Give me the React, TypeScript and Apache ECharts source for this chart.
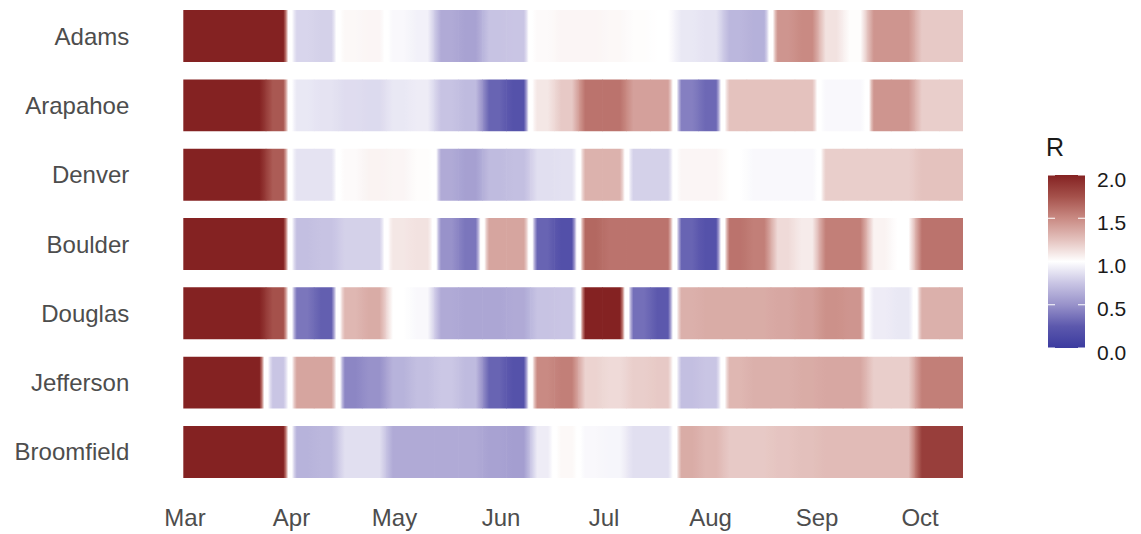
import React, { useEffect, useRef } from "react";
import * as echarts from "echarts";

// ---- data ----
const counties = ["Adams", "Arapahoe", "Denver", "Boulder", "Douglas", "Jefferson", "Broomfield"];
const monthLabels = ["Mar", "Apr", "May", "Jun", "Jul", "Aug", "Sep", "Oct"];
const monthStartDay = [0, 31, 61, 92, 122, 153, 184, 214]; // day index from Mar 1
const dayCount = 227; // Mar 1 .. Oct 13
const marchBlockEnd = 24; // first block: Mar 1 – Mar 24
const weekLength = 7; // then weekly blocks from Mar 25
const marchR = [2.0, 2.0, 2.0, 2.0, 2.0, 2.0, 2.0];

const adamsR = [2.0, 0.82, 0.8, 1.03, 1.04, 0.97, 0.94, 0.62, 0.58, 0.74, 0.75, 1.02, 1.04, 1.04, 1.03, 1.01, 1.0, 0.9, 0.88, 0.68, 0.65, 1.45, 1.5, 1.12, 1.01, 1.45, 1.45, 1.22, 1.22];
const arapahoeR = [1.72, 0.9, 0.88, 0.85, 0.84, 0.9, 0.92, 0.74, 0.7, 0.3, 0.2, 1.1, 1.22, 1.6, 1.6, 1.4, 1.4, 0.42, 0.32, 1.25, 1.25, 1.25, 1.25, 0.97, 0.97, 1.45, 1.45, 1.2, 1.2];
const denverR = [1.7, 0.88, 0.88, 1.02, 1.05, 1.04, 1.01, 0.62, 0.57, 0.7, 0.72, 0.86, 0.87, 1.32, 1.32, 0.8, 0.8, 1.04, 1.04, 1.0, 0.97, 0.97, 0.97, 1.2, 1.2, 1.2, 1.2, 1.25, 1.25];
const boulderR = [2.0, 0.72, 0.74, 0.8, 0.8, 1.1, 1.12, 0.5, 0.38, 1.38, 1.38, 0.3, 0.18, 1.65, 1.6, 1.6, 1.6, 0.3, 0.2, 1.6, 1.55, 1.15, 1.08, 1.55, 1.55, 1.05, 1.0, 1.6, 1.6];
const douglasR = [1.75, 0.38, 0.28, 1.3, 1.35, 1.0, 0.97, 0.62, 0.6, 0.6, 0.62, 0.74, 0.75, 2.0, 2.0, 0.35, 0.25, 1.33, 1.35, 1.35, 1.35, 1.37, 1.4, 1.47, 1.45, 0.92, 0.9, 1.33, 1.33];
const jeffersonR = [0.75, 1.38, 1.38, 0.45, 0.5, 0.66, 0.72, 0.76, 0.7, 0.3, 0.2, 1.5, 1.55, 1.18, 1.15, 1.2, 1.22, 0.72, 0.75, 1.3, 1.33, 1.33, 1.35, 1.37, 1.37, 1.2, 1.2, 1.55, 1.55];
const broomfieldR = [2.0, 0.66, 0.68, 0.86, 0.86, 0.62, 0.62, 0.62, 0.62, 0.58, 0.56, 0.92, 1.03, 0.97, 0.96, 0.86, 0.86, 1.35, 1.3, 1.22, 1.22, 1.24, 1.26, 1.28, 1.28, 1.28, 1.28, 1.85, 1.85];

const weeklyR = [adamsR, arapahoeR, denverR, boulderR, douglasR, jeffersonR, broomfieldR];

const legendBreaks = [0, 0.5, 1, 1.5, 2];
const rMin = 0;
const rMax = 2;
const PALETTE = ["#3b3b9f", "#5c58ad", "#9892ca", "#c9c5e4", "#ffffff", "#e4c2be", "#c98a83", "#a5514b", "#842222"];

const FONT = "'Liberation Sans', Arial, Helvetica, sans-serif";

function hexToRgb(h: string) {
  const n = parseInt(h.slice(1), 16);
  return [(n >> 16) & 255, (n >> 8) & 255, n & 255];
}
function rColor(v: number): string {
  const t = Math.max(0, Math.min(1, (v - rMin) / (rMax - rMin)));
  const lerp = (echarts as any).color && (echarts as any).color.lerp;
  if (lerp) return lerp(t, PALETTE);
  const pos = t * (PALETTE.length - 1);
  const i = Math.min(PALETTE.length - 2, Math.floor(pos));
  const f = pos - i;
  const a = hexToRgb(PALETTE[i]);
  const b = hexToRgb(PALETTE[i + 1]);
  const c = a.map((x, k) => Math.round(x + (b[k] - x) * f));
  return `rgb(${c[0]},${c[1]},${c[2]})`;
}

export default function App() {
  const ref = useRef<HTMLDivElement>(null);

  useEffect(() => {
    document.body.style.margin = "0";
    if (!ref.current) return;
    const chart = echarts.init(ref.current, undefined, { renderer: "svg" });

    // blocks: [startDay, endDay, row, value, prevValue, nextValue]
    const blocks: number[][] = [];
    counties.forEach((_, row) => {
      const segs: number[][] = [[0, marchBlockEnd, marchR[row]]];
      weeklyR[row].forEach((v, k) => {
        const s = marchBlockEnd + k * weekLength;
        segs.push([s, Math.min(dayCount, s + weekLength), v]);
      });
      segs.forEach((sg, i) => {
        const prev = i > 0 ? segs[i - 1][2] : -1;
        const next = i < segs.length - 1 ? segs[i + 1][2] : -1;
        blocks.push([sg[0], sg[1], row, sg[2], prev, next]);
      });
    });

    const days = Array.from({ length: dayCount }, (_, i) => String(i));

    const barTop = 175;
    const barBottom = 348;
    const barX = 1048;
    const barW = 37;
    const yOf = (v: number) => barBottom - ((v - rMin) / (rMax - rMin)) * (barBottom - barTop);

    const legendStops = PALETTE.map((c, i) => ({ offset: 1 - i / (PALETTE.length - 1), color: c })).reverse();

    const graphics: any[] = [
      {
        type: "text",
        left: barX - 2,
        top: 134,
        style: { text: "R", fontSize: 25, fill: "#1a1a1a", fontFamily: FONT },
      },
      {
        type: "rect",
        shape: { x: barX, y: barTop, width: barW, height: barBottom - barTop },
        style: { fill: { type: "linear", x: 0, y: 0, x2: 0, y2: 1, colorStops: legendStops } },
      },
    ];
    legendBreaks.forEach((b) => {
      const y = yOf(b);
      graphics.push(
        { type: "line", shape: { x1: barX, y1: y, x2: barX + 7, y2: y }, style: { stroke: "#ffffff", lineWidth: 1 } },
        { type: "line", shape: { x1: barX + barW - 7, y1: y, x2: barX + barW, y2: y }, style: { stroke: "#ffffff", lineWidth: 1 } },
        {
          type: "text",
          x: barX + barW + 12,
          y: y + 4,
          style: { text: b.toFixed(1), fontSize: 21, fill: "#1a1a1a", fontFamily: FONT, verticalAlign: "middle", align: "left" },
        }
      );
    });

    const option: any = {
      animation: false,
      backgroundColor: "#ffffff",
      grid: { left: 183.3, top: 1.4, width: 779.7, height: 485.2, containLabel: false },
      xAxis: {
        type: "category",
        data: days,
        boundaryGap: true,
        axisLine: { show: false },
        axisTick: { show: false },
        splitLine: { show: false },
        axisLabel: {
          interval: (index: number) => monthStartDay.indexOf(index) >= 0,
          formatter: (_v: string, index: number) => {
            const m = monthStartDay.indexOf(index);
            return m >= 0 ? monthLabels[m] : "";
          },
          margin: 19,
          fontSize: 24,
          color: "#4d4d4d",
          fontFamily: FONT,
        },
      },
      yAxis: {
        type: "category",
        data: counties,
        inverse: true,
        axisLine: { show: false },
        axisTick: { show: false },
        splitLine: { show: false },
        axisLabel: { margin: 54, fontSize: 24, color: "#4d4d4d", fontFamily: FONT },
      },
      graphic: graphics,
      series: [
        {
          type: "custom",
          coordinateSystem: "cartesian2d",
          encode: { x: 0, y: 2 },
          data: blocks,
          renderItem: (_params: any, api: any) => {
            const s = api.value(0);
            const e = api.value(1);
            const row = api.value(2);
            const v = api.value(3);
            const p = api.value(4);
            const n = api.value(5);
            const c = api.coord([s, row]);
            const size = api.size([1, 1]);
            const bw = size[0];
            const bh = size[1];
            const x = c[0] - bw / 2;
            const w = (e - s) * bw;
            const h = bh * 0.75;
            const y = c[1] - h / 2;
            const f = Math.min(0.45, 2 / (e - s));
            const st: number[][] = [];
            if (p >= 0) {
              if ((p - 1) * (v - 1) < 0) {
                st.push([0, 1], [f * 0.3, 1], [f * 0.65, 1 + (v - 1) * 0.6], [f, v]);
              } else {
                const m = (p + v) / 2;
                st.push([0, m], [f * 0.5, (m + v) / 2], [f, v]);
              }
            } else st.push([0, v]);
            if (n >= 0) {
              if ((n - 1) * (v - 1) < 0) {
                st.push([1 - f, v], [1 - f * 0.65, 1 + (v - 1) * 0.6], [1 - f * 0.3, 1], [1, 1]);
              } else {
                const m = (n + v) / 2;
                st.push([1 - f, v], [1 - f * 0.5, (m + v) / 2], [1, m]);
              }
            } else st.push([1, v]);
            return {
              type: "rect",
              shape: { x, y, width: w + (n >= 0 ? 0.6 : 0), height: h },
              style: {
                fill: {
                  type: "linear",
                  x: 0,
                  y: 0,
                  x2: 1,
                  y2: 0,
                  colorStops: st.map(([o, val]) => ({ offset: o, color: rColor(val) })),
                },
              },
            };
          },
        },
      ],
    };
    chart.setOption(option);
    return () => chart.dispose();
  }, []);

  return <div ref={ref} style={{ position: "absolute", left: 0, top: 0, width: 1141, height: 534 }} />;
}
